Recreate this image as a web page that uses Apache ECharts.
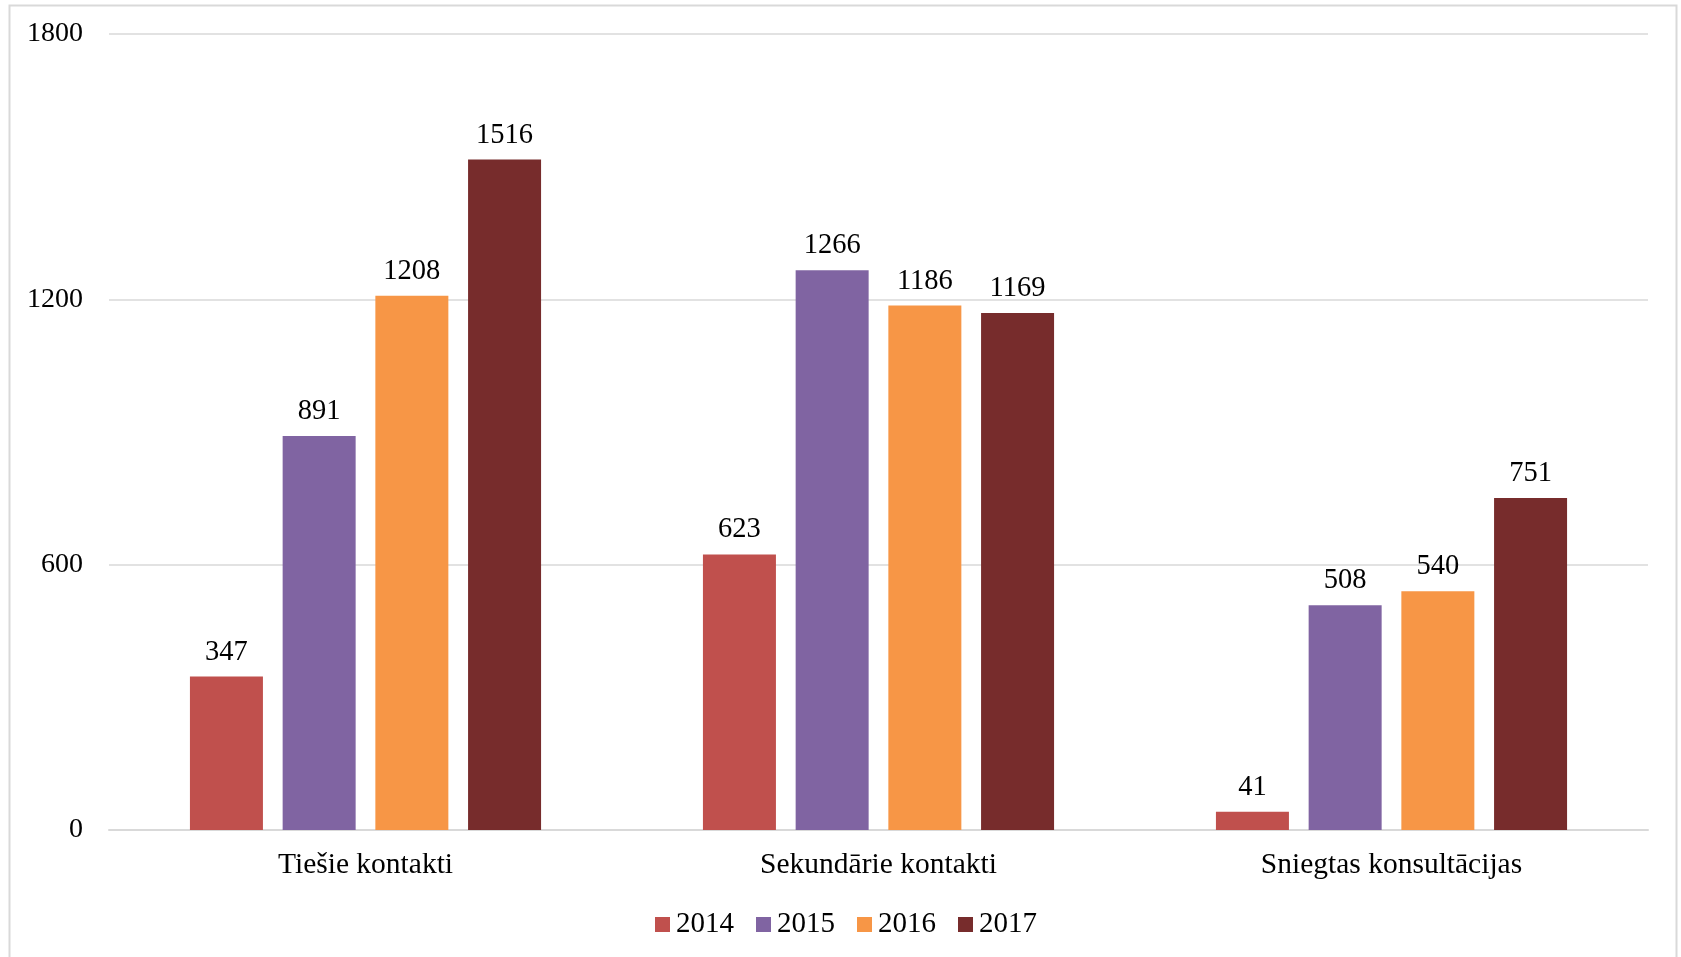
<!DOCTYPE html>
<html>
<head>
<meta charset="utf-8">
<script src="https://cdn.jsdelivr.net/npm/echarts@6/dist/echarts.min.js"></script>
<style>
html,body{margin:0;padding:0;background:#fff;}
#c{width:1681px;height:957px;}
</style>
</head>
<body>
<div id="c"></div>
<script>
const categories = ['Tiešie kontakti', 'Sekundārie kontakti', 'Sniegtas konsultācijas'];
const seriesNames = ['2014', '2015', '2016', '2017'];
const v2014 = [347, 623, 41];
const v2015 = [891, 1266, 508];
const v2016 = [1208, 1186, 540];
const v2017 = [1516, 1169, 751];
const yTicks = [0, 600, 1200, 1800];
const colors = ['#C0504D', '#8064A2', '#F79646', '#772C2C'];

const font = '"Liberation Serif", "Times New Roman", serif';
const chart = echarts.init(document.getElementById('c'));
const allValues = [v2014, v2015, v2016, v2017];
chart.setOption({
  animation: false,
  color: colors,
  textStyle: { fontFamily: font },
  graphic: [{
    type: 'rect',
    shape: { x: 9.5, y: 5.5, width: 1667, height: 960 },
    style: { fill: 'none', stroke: '#d9d9d9', lineWidth: 2 },
    silent: true
  }],
  grid: { left: 109, right: 33, top: 34, bottom: 127, containLabel: false },
  legend: {
    data: seriesNames,
    left: 650,
    top: 905,
    itemWidth: 15,
    itemHeight: 15,
    itemGap: 22,
    icon: 'rect',
    textStyle: { fontFamily: font, fontSize: 29, color: '#000', padding: [0, 0, 0, 1] }
  },
  xAxis: {
    type: 'category',
    data: categories,
    axisLine: { lineStyle: { color: '#d9d9d9', width: 2 } },
    axisTick: { show: false },
    axisLabel: { fontFamily: font, fontSize: 29.5, color: '#000', margin: 20 }
  },
  yAxis: {
    type: 'value',
    min: yTicks[0],
    max: yTicks[yTicks.length - 1],
    interval: yTicks[1] - yTicks[0],
    axisLine: { show: false },
    axisTick: { show: false },
    splitLine: { lineStyle: { color: '#d9d9d9', width: 1.5 } },
    axisLabel: { fontFamily: font, fontSize: 28, color: '#000', margin: 26, formatter: v => String(v) }
  },
  series: seriesNames.map((name, i) => ({
    name: name,
    type: 'bar',
    data: allValues[i],
    barWidth: 73,
    barGap: '27%',
    itemStyle: { color: colors[i] },
    label: {
      show: true,
      position: 'top',
      distance: 10,
      fontFamily: font,
      fontSize: 28.5,
      color: '#000'
    }
  }))
});
</script>
</body>
</html>
